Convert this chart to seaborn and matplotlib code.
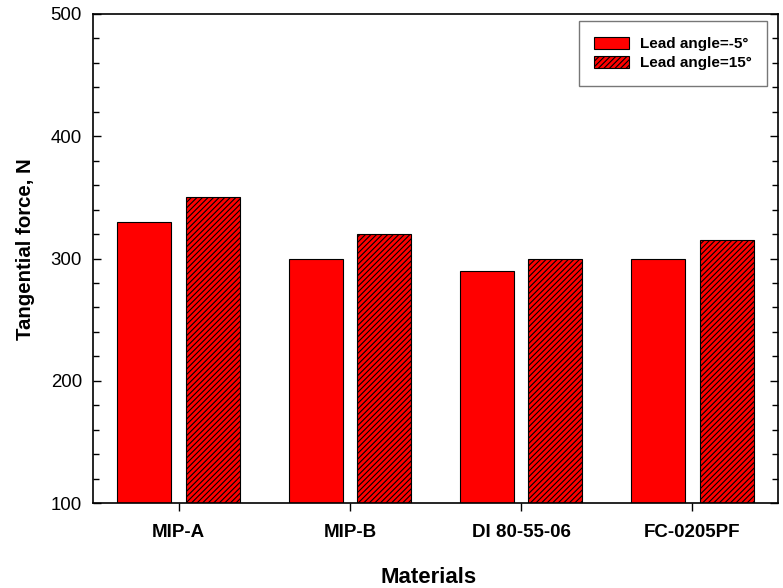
import matplotlib
matplotlib.use("Agg")
import matplotlib.pyplot as plt
from matplotlib.ticker import MultipleLocator
import seaborn as sns
import pandas as pd

materials = ["MIP-A", "MIP-B", "DI 80-55-06", "FC-0205PF"]
series_names = ["Lead angle=-5\u00b0", "Lead angle=15\u00b0"]
force_neg5 = [330, 300, 290, 300]
force_15 = [350, 320, 300, 315]

df = pd.DataFrame({
    "Materials": materials * 2,
    "Series": [series_names[0]] * 4 + [series_names[1]] * 4,
    "Force": force_neg5 + force_15,
})

sns.set_style("white")
plt.rcParams["font.family"] = ["Liberation Sans", "DejaVu Sans"]
plt.rcParams["hatch.linewidth"] = 0.8
plt.rcParams["text.color"] = "black"
plt.rcParams["axes.labelcolor"] = "black"
plt.rcParams["xtick.color"] = "black"
plt.rcParams["ytick.color"] = "black"

W, H = 783, 588
fig = plt.figure(figsize=(W / 100, H / 100), dpi=100)
ax = fig.add_axes([93 / W, 1 - 503 / H, 685 / W, 489 / H])

sns.barplot(data=df, x="Materials", y="Force", hue="Series",
            palette=["#FF0000", "#FF0000"], width=0.8, gap=0.21,
            edgecolor="black", linewidth=0.8, saturation=1,
            errorbar=None, ax=ax)

# hatch the second series
for bar in ax.containers[1]:
    bar.set_hatch("//////")

ax.set_ylim(100, 500)
ax.set_xlim(-0.5, 3.5)
ax.yaxis.set_major_locator(MultipleLocator(100))
ax.yaxis.set_minor_locator(MultipleLocator(20))
ax.tick_params(axis="y", which="major", direction="in", length=6, width=1,
               left=True, right=True, labelsize=13.4, pad=8)
ax.tick_params(axis="y", which="minor", direction="in", length=4, width=1,
               left=True, right=True)
ax.tick_params(axis="x", which="major", direction="out", length=6, width=1,
               bottom=True, top=False, labelsize=13.5, pad=9)
for lbl in ax.get_xticklabels():
    lbl.set_fontweight("bold")
for s in ax.spines.values():
    s.set_linewidth(1.2)
    s.set_color("black")

ax.set_xlabel("Materials", fontsize=16, fontweight="bold")
ax.set_ylabel("Tangential force, N", fontsize=14.7, fontweight="bold")
ax.xaxis.set_label_coords(0.49, -(567 - 503) / 489)
ax.yaxis.set_label_coords(-(93 - 35) / 685, 0.5 + 9 / 489)

leg = ax.legend(title=None, loc="upper right", bbox_to_anchor=(0.984, 0.985),
                prop={"weight": "bold", "size": 11},
                frameon=True, fancybox=False, edgecolor="#555555",
                borderpad=1.0, handlelength=2.3, handleheight=0.9,
                handletextpad=0.7, labelspacing=0.3, borderaxespad=0)
leg.get_frame().set_linewidth(1)
handles = leg.legend_handles
handles[1].set_hatch("//////")

fig.savefig("out.png", dpi=100)
